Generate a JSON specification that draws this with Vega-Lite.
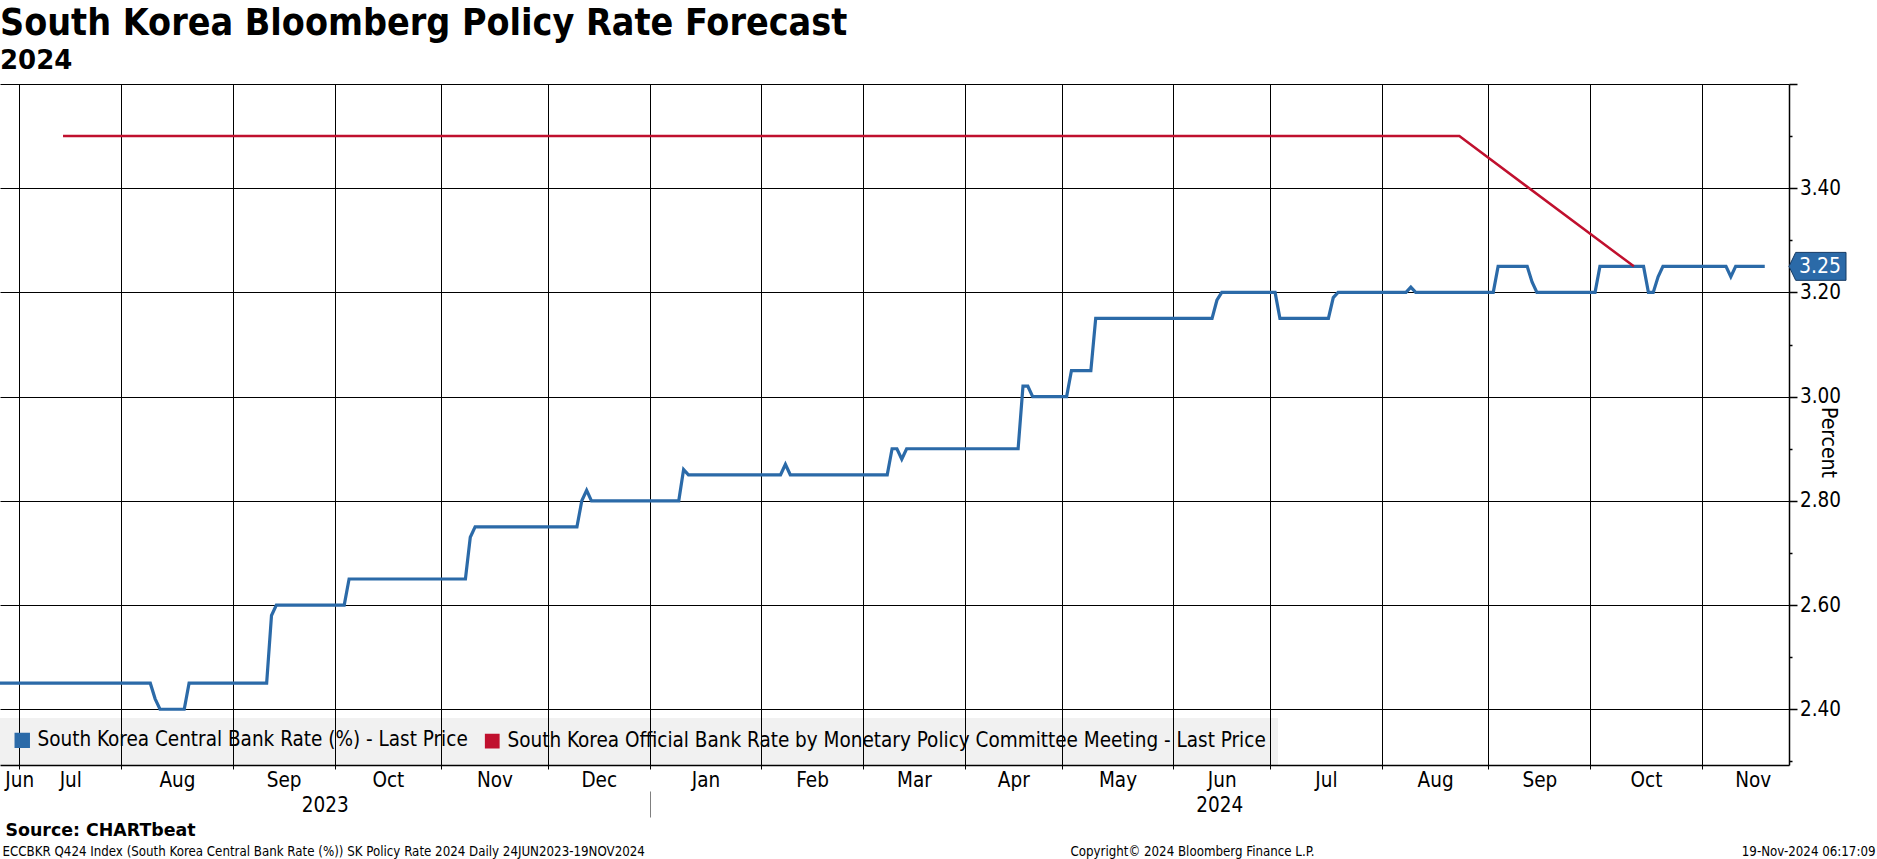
{
  "$schema": "https://vega.github.io/schema/vega-lite/v6.json",
  "width": 1789,
  "height": 681,
  "autosize": {"type": "none"},
  "padding": {"left": 0, "top": 84, "right": 88, "bottom": 94},
  "background": "white",
  "config": {
    "font": "DejaVu Sans Condensed",
    "view": {"stroke": null},
    "axis": {"labelColor": "black", "titleColor": "black", "domainColor": "black", "tickColor": "black", "gridColor": "black", "labelFont": "DejaVu Sans Condensed", "titleFont": "DejaVu Sans Condensed", "titleFontWeight": "normal", "labelFlush": false, "labelOverlap": false}
  },
  "title": {
    "text": "South Korea Bloomberg Policy Rate Forecast",
    "subtitle": "2024",
    "anchor": "start",
    "frame": "group",
    "font": "DejaVu Sans Condensed",
    "fontSize": 37.3,
    "fontWeight": "bold",
    "color": "black",
    "subtitleFont": "DejaVu Sans",
    "subtitleFontSize": 26,
    "subtitleFontWeight": "bold",
    "subtitleColor": "black",
    "subtitlePadding": 4.2,
    "offset": -0.9
  },
  "datasets": {
    "rates": [
      {"series": "South Korea Central Bank Rate (%) - Last Price", "date": "2023-06-26", "day": 0, "rate": 2.45},
      {"series": "South Korea Central Bank Rate (%) - Last Price", "date": "2023-08-08", "day": 31, "rate": 2.45},
      {"series": "South Korea Central Bank Rate (%) - Last Price", "date": "2023-08-09", "day": 32, "rate": 2.42},
      {"series": "South Korea Central Bank Rate (%) - Last Price", "date": "2023-08-10", "day": 33, "rate": 2.40},
      {"series": "South Korea Central Bank Rate (%) - Last Price", "date": "2023-08-17", "day": 38, "rate": 2.40},
      {"series": "South Korea Central Bank Rate (%) - Last Price", "date": "2023-08-18", "day": 39, "rate": 2.45},
      {"series": "South Korea Central Bank Rate (%) - Last Price", "date": "2023-09-11", "day": 55, "rate": 2.45},
      {"series": "South Korea Central Bank Rate (%) - Last Price", "date": "2023-09-12", "day": 56, "rate": 2.58},
      {"series": "South Korea Central Bank Rate (%) - Last Price", "date": "2023-09-13", "day": 57, "rate": 2.60},
      {"series": "South Korea Central Bank Rate (%) - Last Price", "date": "2023-10-03", "day": 71, "rate": 2.60},
      {"series": "South Korea Central Bank Rate (%) - Last Price", "date": "2023-10-04", "day": 72, "rate": 2.65},
      {"series": "South Korea Central Bank Rate (%) - Last Price", "date": "2023-11-07", "day": 96, "rate": 2.65},
      {"series": "South Korea Central Bank Rate (%) - Last Price", "date": "2023-11-08", "day": 97, "rate": 2.73},
      {"series": "South Korea Central Bank Rate (%) - Last Price", "date": "2023-11-09", "day": 98, "rate": 2.75},
      {"series": "South Korea Central Bank Rate (%) - Last Price", "date": "2023-12-08", "day": 119, "rate": 2.75},
      {"series": "South Korea Central Bank Rate (%) - Last Price", "date": "2023-12-11", "day": 120, "rate": 2.80},
      {"series": "South Korea Central Bank Rate (%) - Last Price", "date": "2023-12-12", "day": 121, "rate": 2.82},
      {"series": "South Korea Central Bank Rate (%) - Last Price", "date": "2023-12-13", "day": 122, "rate": 2.80},
      {"series": "South Korea Central Bank Rate (%) - Last Price", "date": "2024-01-08", "day": 140, "rate": 2.80},
      {"series": "South Korea Central Bank Rate (%) - Last Price", "date": "2024-01-09", "day": 141, "rate": 2.86},
      {"series": "South Korea Central Bank Rate (%) - Last Price", "date": "2024-01-10", "day": 142, "rate": 2.85},
      {"series": "South Korea Central Bank Rate (%) - Last Price", "date": "2024-02-06", "day": 161, "rate": 2.85},
      {"series": "South Korea Central Bank Rate (%) - Last Price", "date": "2024-02-07", "day": 162, "rate": 2.87},
      {"series": "South Korea Central Bank Rate (%) - Last Price", "date": "2024-02-08", "day": 163, "rate": 2.85},
      {"series": "South Korea Central Bank Rate (%) - Last Price", "date": "2024-03-07", "day": 183, "rate": 2.85},
      {"series": "South Korea Central Bank Rate (%) - Last Price", "date": "2024-03-08", "day": 184, "rate": 2.90},
      {"series": "South Korea Central Bank Rate (%) - Last Price", "date": "2024-03-11", "day": 185, "rate": 2.90},
      {"series": "South Korea Central Bank Rate (%) - Last Price", "date": "2024-03-12", "day": 186, "rate": 2.88},
      {"series": "South Korea Central Bank Rate (%) - Last Price", "date": "2024-03-13", "day": 187, "rate": 2.90},
      {"series": "South Korea Central Bank Rate (%) - Last Price", "date": "2024-04-16", "day": 210, "rate": 2.90},
      {"series": "South Korea Central Bank Rate (%) - Last Price", "date": "2024-04-17", "day": 211, "rate": 3.02},
      {"series": "South Korea Central Bank Rate (%) - Last Price", "date": "2024-04-18", "day": 212, "rate": 3.02},
      {"series": "South Korea Central Bank Rate (%) - Last Price", "date": "2024-04-19", "day": 213, "rate": 3.00},
      {"series": "South Korea Central Bank Rate (%) - Last Price", "date": "2024-05-01", "day": 220, "rate": 3.00},
      {"series": "South Korea Central Bank Rate (%) - Last Price", "date": "2024-05-02", "day": 221, "rate": 3.05},
      {"series": "South Korea Central Bank Rate (%) - Last Price", "date": "2024-05-08", "day": 225, "rate": 3.05},
      {"series": "South Korea Central Bank Rate (%) - Last Price", "date": "2024-05-09", "day": 226, "rate": 3.15},
      {"series": "South Korea Central Bank Rate (%) - Last Price", "date": "2024-06-12", "day": 250, "rate": 3.15},
      {"series": "South Korea Central Bank Rate (%) - Last Price", "date": "2024-06-13", "day": 251, "rate": 3.185},
      {"series": "South Korea Central Bank Rate (%) - Last Price", "date": "2024-06-14", "day": 252, "rate": 3.20},
      {"series": "South Korea Central Bank Rate (%) - Last Price", "date": "2024-07-01", "day": 263, "rate": 3.20},
      {"series": "South Korea Central Bank Rate (%) - Last Price", "date": "2024-07-02", "day": 264, "rate": 3.15},
      {"series": "South Korea Central Bank Rate (%) - Last Price", "date": "2024-07-16", "day": 274, "rate": 3.15},
      {"series": "South Korea Central Bank Rate (%) - Last Price", "date": "2024-07-17", "day": 275, "rate": 3.19},
      {"series": "South Korea Central Bank Rate (%) - Last Price", "date": "2024-07-18", "day": 276, "rate": 3.20},
      {"series": "South Korea Central Bank Rate (%) - Last Price", "date": "2024-08-07", "day": 290, "rate": 3.20},
      {"series": "South Korea Central Bank Rate (%) - Last Price", "date": "2024-08-08", "day": 291, "rate": 3.21},
      {"series": "South Korea Central Bank Rate (%) - Last Price", "date": "2024-08-09", "day": 292, "rate": 3.20},
      {"series": "South Korea Central Bank Rate (%) - Last Price", "date": "2024-09-02", "day": 308, "rate": 3.20},
      {"series": "South Korea Central Bank Rate (%) - Last Price", "date": "2024-09-03", "day": 309, "rate": 3.25},
      {"series": "South Korea Central Bank Rate (%) - Last Price", "date": "2024-09-11", "day": 315, "rate": 3.25},
      {"series": "South Korea Central Bank Rate (%) - Last Price", "date": "2024-09-12", "day": 316, "rate": 3.22},
      {"series": "South Korea Central Bank Rate (%) - Last Price", "date": "2024-09-13", "day": 317, "rate": 3.20},
      {"series": "South Korea Central Bank Rate (%) - Last Price", "date": "2024-10-01", "day": 329, "rate": 3.20},
      {"series": "South Korea Central Bank Rate (%) - Last Price", "date": "2024-10-02", "day": 330, "rate": 3.25},
      {"series": "South Korea Central Bank Rate (%) - Last Price", "date": "2024-10-15", "day": 339, "rate": 3.25},
      {"series": "South Korea Central Bank Rate (%) - Last Price", "date": "2024-10-16", "day": 340, "rate": 3.20},
      {"series": "South Korea Central Bank Rate (%) - Last Price", "date": "2024-10-17", "day": 341, "rate": 3.20},
      {"series": "South Korea Central Bank Rate (%) - Last Price", "date": "2024-10-18", "day": 342, "rate": 3.23},
      {"series": "South Korea Central Bank Rate (%) - Last Price", "date": "2024-10-21", "day": 343, "rate": 3.25},
      {"series": "South Korea Central Bank Rate (%) - Last Price", "date": "2024-11-07", "day": 356, "rate": 3.25},
      {"series": "South Korea Central Bank Rate (%) - Last Price", "date": "2024-11-08", "day": 357, "rate": 3.23},
      {"series": "South Korea Central Bank Rate (%) - Last Price", "date": "2024-11-11", "day": 358, "rate": 3.25},
      {"series": "South Korea Central Bank Rate (%) - Last Price", "date": "2024-11-19", "day": 364, "rate": 3.25},
      {"series": "South Korea Official Bank Rate by Monetary Policy Committee Meeting - Last Price", "date": "2023-07-13", "day": 13, "rate": 3.50},
      {"series": "South Korea Official Bank Rate by Monetary Policy Committee Meeting - Last Price", "date": "2023-08-24", "day": 43, "rate": 3.50},
      {"series": "South Korea Official Bank Rate by Monetary Policy Committee Meeting - Last Price", "date": "2023-10-19", "day": 83, "rate": 3.50},
      {"series": "South Korea Official Bank Rate by Monetary Policy Committee Meeting - Last Price", "date": "2023-11-30", "day": 113, "rate": 3.50},
      {"series": "South Korea Official Bank Rate by Monetary Policy Committee Meeting - Last Price", "date": "2024-01-11", "day": 143, "rate": 3.50},
      {"series": "South Korea Official Bank Rate by Monetary Policy Committee Meeting - Last Price", "date": "2024-02-22", "day": 173, "rate": 3.50},
      {"series": "South Korea Official Bank Rate by Monetary Policy Committee Meeting - Last Price", "date": "2024-04-12", "day": 208, "rate": 3.50},
      {"series": "South Korea Official Bank Rate by Monetary Policy Committee Meeting - Last Price", "date": "2024-05-23", "day": 236, "rate": 3.50},
      {"series": "South Korea Official Bank Rate by Monetary Policy Committee Meeting - Last Price", "date": "2024-07-11", "day": 271, "rate": 3.50},
      {"series": "South Korea Official Bank Rate by Monetary Policy Committee Meeting - Last Price", "date": "2024-08-22", "day": 301, "rate": 3.50},
      {"series": "South Korea Official Bank Rate by Monetary Policy Committee Meeting - Last Price", "date": "2024-10-11", "day": 337, "rate": 3.25}
    ]
  },
  "layer": [
    {
      "data": {"name": "rates"},
      "mark": {"type": "line", "interpolate": "linear"},
      "encoding": {
        "x": {
          "field": "day", "type": "quantitative",
          "scale": {"domain": [0, 369], "nice": false, "zero": false},
          "axis": {
            "orient": "bottom",
            "values": [4, 25, 48, 69, 91, 113, 134, 157, 178, 199, 219, 242, 262, 285, 307, 328, 351],
            "labels": false, "ticks": true, "tickSize": 4, "tickColor": "black", "tickWidth": 1,
            "domain": true, "domainColor": "black", "domainWidth": 1.5,
            "grid": true, "gridColor": "black", "gridWidth": 1, "gridOpacity": 1,
            "title": null
          }
        },
        "y": {
          "field": "rate", "type": "quantitative",
          "scale": {"domain": [2.293, 3.6], "nice": false, "zero": false},
          "axis": {
            "orient": "right",
            "values": [2.4, 2.6, 2.8, 3, 3.2, 3.4, 3.6],
            "labelExpr": "datum.value < 3.5 ? format(datum.value, '.2f') : ''",
            "grid": true, "gridColor": "black", "gridWidth": 1, "gridOpacity": 1,
            "ticks": true, "tickSize": 8, "tickWidth": 1.5, "tickColor": "black",
            "domain": true, "domainColor": "black", "domainWidth": 1.5,
            "labelFontSize": 20.5, "labelPadding": 2.5, "labelColor": "black", "labelBaseline": "middle",
            "title": "Percent", "titleFontSize": 21, "titleAngle": 90, "titleX": 38, "titleY": 358,
            "titleAlign": "center", "titleBaseline": "middle"
          }
        },
        "color": {
          "field": "series", "type": "nominal",
          "scale": {
            "domain": ["South Korea Central Bank Rate (%) - Last Price", "South Korea Official Bank Rate by Monetary Policy Committee Meeting - Last Price"],
            "range": ["#2b6aa8", "#c0102e"]
          },
          "legend": {
            "title": null, "orient": "bottom-left", "offset": 0, "direction": "horizontal",
            "fillColor": "rgba(0,0,0,0.055)", "padding": 12,
            "symbolType": "square", "symbolSize": 150, "symbolStrokeWidth": 0,
            "labelFontSize": 20.5, "labelColor": "black", "labelLimit": 2000, "labelOffset": 5, "columnPadding": 13,
            "encode": {"symbols": {"update": {"fill": {"scale": "color", "field": "value"}, "fillOpacity": {"value": 1}}}}
          }
        },
        "strokeWidth": {
          "field": "series", "type": "nominal",
          "scale": {
            "domain": ["South Korea Central Bank Rate (%) - Last Price", "South Korea Official Bank Rate by Monetary Policy Committee Meeting - Last Price"],
            "range": [3.2, 2.5]
          },
          "legend": null
        }
      }
    },
    {
      "data": {"values": [{}]},
      "mark": {"type": "rule", "strokeOpacity": 0},
      "encoding": {
        "x": {
          "datum": 184, "type": "quantitative",
          "scale": {"domain": [0, 369], "nice": false, "zero": false},
          "axis": {
            "orient": "bottom",
            "values": [1, 14.5, 36.5, 58.5, 80, 102, 123.5, 145.5, 167.5, 188.5, 209, 230.5, 252, 273.5, 296, 317.5, 339.5, 361.5],
            "labelExpr": "['Jun','Jul','Aug','Sep','Oct','Nov','Dec','Jan','Feb','Mar','Apr','May','Jun','Jul','Aug','Sep','Oct','Nov'][indexof([1,14.5,36.5,58.5,80,102,123.5,145.5,167.5,188.5,209,230.5,252,273.5,296,317.5,339.5,361.5], datum.value)]",
            "ticks": false, "domain": false, "grid": false,
            "labelFontSize": 20.5, "labelPadding": 5.5, "labelColor": "black",
            "labelAlign": {"condition": {"test": "datum.value < 2", "value": "left"}, "value": "center"},
            "title": null
          }
        }
      }
    },
    {
      "data": {"values": [{}]},
      "mark": {"type": "rule", "strokeOpacity": 0},
      "encoding": {
        "x": {
          "datum": 184, "type": "quantitative",
          "scale": {"domain": [0, 369], "nice": false, "zero": false},
          "axis": {
            "orient": "bottom", "offset": 26,
            "values": [67, 134, 251.5],
            "labelExpr": "datum.value == 67 ? '2023' : datum.value == 251.5 ? '2024' : ''",
            "ticks": true, "tickSize": 26, "tickColor": "#7f7f7f", "tickWidth": 1,
            "tickOpacity": {"condition": {"test": "datum.value == 134", "value": 1}, "value": 0},
            "domain": false, "grid": false,
            "labelFontSize": 20.5, "labelPadding": -21.5, "labelColor": "black",
            "title": "Source: CHARTbeat", "titleFont": "DejaVu Sans", "titleFontWeight": "bold", "titleFontSize": 17.4,
            "titleAlign": "left", "titleAnchor": "start", "titleBaseline": "alphabetic", "titleX": 5, "titleY": 44, "titleAngle": 0
          }
        }
      }
    },
    {
      "data": {"values": [{}]},
      "mark": {"type": "rule", "strokeOpacity": 0},
      "encoding": {
        "x": {
          "datum": 184, "type": "quantitative",
          "scale": {"domain": [0, 369], "nice": false, "zero": false},
          "axis": {
            "orient": "bottom", "values": [], "labels": false, "ticks": false, "domain": false, "grid": false,
            "title": "ECCBKR Q424 Index (South Korea Central Bank Rate (%)) SK Policy Rate 2024  Daily 24JUN2023-19NOV2024",
            "titleFontSize": 13.2, "titleFontWeight": "normal", "titleAlign": "left", "titleBaseline": "alphabetic",
            "titleX": 2, "titleY": 90, "titleAngle": 0
          }
        }
      }
    },
    {
      "data": {"values": [{}]},
      "mark": {"type": "rule", "strokeOpacity": 0},
      "encoding": {
        "x": {
          "datum": 184, "type": "quantitative",
          "scale": {"domain": [0, 369], "nice": false, "zero": false},
          "axis": {
            "orient": "bottom", "values": [], "labels": false, "ticks": false, "domain": false, "grid": false,
            "title": "Copyright© 2024 Bloomberg Finance L.P.",
            "titleFontSize": 13.2, "titleFontWeight": "normal", "titleAlign": "center", "titleBaseline": "alphabetic",
            "titleX": 1192, "titleY": 90, "titleAngle": 0
          }
        }
      }
    },
    {
      "data": {"values": [{}]},
      "mark": {"type": "rule", "strokeOpacity": 0},
      "encoding": {
        "x": {
          "datum": 184, "type": "quantitative",
          "scale": {"domain": [0, 369], "nice": false, "zero": false},
          "axis": {
            "orient": "bottom", "values": [], "labels": false, "ticks": false, "domain": false, "grid": false,
            "title": "19-Nov-2024 06:17:09",
            "titleFontSize": 13.2, "titleFontWeight": "normal", "titleAlign": "right", "titleBaseline": "alphabetic",
            "titleX": 1875, "titleY": 90, "titleAngle": 0
          }
        }
      }
    },
    {
      "data": {"name": "rates"},
      "transform": [{"filter": "datum.day == 364"}],
      "mark": {"type": "point", "shape": "M0,0L0.235,-0.49L2,-0.49L2,0.49L0.235,0.49Z", "filled": true, "size": 3249, "fill": "#2b6aa8", "stroke": "#153a63", "strokeWidth": 1, "opacity": 1},
      "encoding": {
        "x": {"value": "width"},
        "y": {
          "field": "rate", "type": "quantitative",
          "scale": {"domain": [2.293, 3.6], "nice": false, "zero": false},
          "axis": {
            "orient": "right",
            "values": [2.3, 2.5, 2.7, 2.9, 3.1, 3.3, 3.5],
            "labels": false, "ticks": true, "tickSize": 3, "tickWidth": 1.5, "tickColor": "black",
            "domain": false, "grid": false, "title": null
          }
        }
      }
    },
    {
      "data": {"name": "rates"},
      "transform": [{"filter": "datum.day == 364"}],
      "mark": {"type": "text", "dx": 31, "dy": 1, "align": "center", "baseline": "middle", "color": "white", "fontSize": 21},
      "encoding": {
        "x": {"value": "width"},
        "y": {"field": "rate", "type": "quantitative", "scale": {"domain": [2.293, 3.6], "nice": false, "zero": false}, "axis": null},
        "text": {"field": "rate", "type": "quantitative", "format": ".2f"}
      }
    }
  ],
  "resolve": {"axis": {"x": "independent", "y": "independent"}}
}
